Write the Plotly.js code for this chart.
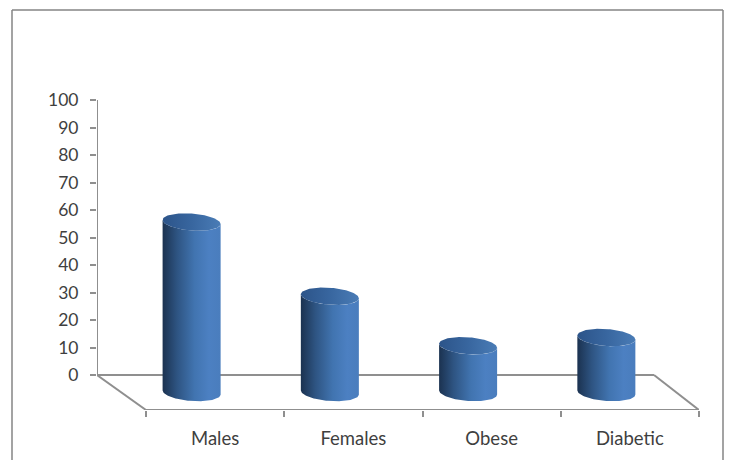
<!DOCTYPE html>
<html>
<head>
<meta charset="utf-8">
<script src="https://cdn.plot.ly/plotly-3.0.1.min.js"></script>
<style>html,body{margin:0;padding:0;background:#fff}#chart{width:731px;height:460px}</style>
</head>
<body>
<div id="chart"></div>
<script>
// Chart content
const categories = ["Males", "Females", "Obese", "Diabetic"];
const values = [62, 35, 17, 20];
const yTicks = [0, 10, 20, 30, 40, 50, 60, 70, 80, 90, 100];

// Pixel scale of the two axes and the depth of the 3D floor, in axis units
const W = 731, H = 460;
const margin = {l: 97, r: 32, t: 100, b: 50};
const unitX = (W - margin.l - margin.r) / 4.355;
const unitY = (H - margin.t - margin.b) / 112.73;
const depthX = 49 / unitX;
const depthY = 35 / unitY;
const backRightX = 45 / unitX;
const radiusX = 29 / unitX;
const radiusY = 8.5 / unitY;
const tilt = 2 / unitY;
const axisGrey = "#8f8f8f";

// One point on the rim of a cylinder: the ellipse leans slightly, like the floor
function rim(cx, cy, t) {
  return [cx + radiusX * Math.cos(t), cy + radiusY * Math.sin(t) - tilt * Math.cos(t)];
}

function cylinderBody(cx, value) {
  const base = -depthY / 2, xs = [], ys = [];
  for (let i = 0; i <= 48; i++) {
    const p = rim(cx, base, Math.PI + Math.PI * i / 48);
    xs.push(p[0]); ys.push(p[1]);
  }
  for (let i = 0; i <= 48; i++) {
    const p = rim(cx, value + base, Math.PI * 2 - Math.PI * i / 48);
    xs.push(p[0]); ys.push(p[1]);
  }
  xs.push(xs[0]); ys.push(ys[0]);
  return {
    x: xs, y: ys, type: "scatter", mode: "lines", fill: "toself", hoverinfo: "skip",
    line: {width: 0, color: "#4a7dbd"},
    fillgradient: {type: "horizontal", colorscale: [
      [0, "#1b3250"], [0.25, "#2e5482"], [0.55, "#4174b0"], [0.8, "#4c80c2"], [1, "#4a7dbd"]
    ]}
  };
}

function cylinderTop(cx, value) {
  const base = -depthY / 2, xs = [], ys = [];
  for (let i = 0; i <= 96; i++) {
    const p = rim(cx, value + base, 2 * Math.PI * i / 96);
    xs.push(p[0]); ys.push(p[1]);
  }
  return {
    x: xs, y: ys, type: "scatter", mode: "lines", fill: "toself", hoverinfo: "skip",
    line: {width: 0, color: "#37659f"},
    fillgradient: {type: "horizontal", colorscale: [
      [0, "#2c5489"], [0.5, "#38669f"], [1, "#4a7cb6"]
    ]}
  };
}

const traces = [];
categories.forEach((name, i) => {
  const cx = i + 0.5 - depthX * 0.48;
  traces.push(cylinderBody(cx, values[i]));
  traces.push(cylinderTop(cx, values[i]));
});
// Empty trace that brings the tick-only category axis into the figure
traces.push({x: [0], y: [0], xaxis: "x2", type: "scatter", mode: "markers",
             marker: {opacity: 0}, hoverinfo: "skip"});

const floorLine = (x0, y0, x1, y1) => ({
  type: "line", xref: "x", yref: "y", x0, y0, x1, y1, layer: "below",
  line: {color: axisGrey, width: 2}
});
const frameLine = (x0, y0, x1, y1) => ({
  type: "line", xref: "paper", yref: "paper",
  x0: (x0 - margin.l) / (W - margin.l - margin.r),
  x1: (x1 - margin.l) / (W - margin.l - margin.r),
  y0: (H - margin.b - y0) / (H - margin.t - margin.b),
  y1: (H - margin.b - y1) / (H - margin.t - margin.b),
  line: {color: "#858585", width: 1.5}
});

const nCat = categories.length;
const xRange = [-depthX, nCat];
const yRange = [-depthY, 100];

const layout = {
  width: W, height: H, margin, showlegend: false,
  paper_bgcolor: "#fff", plot_bgcolor: "#fff",
  font: {family: "Lato, 'Open Sans', sans-serif", size: 18, color: "#3f3f3f"},
  xaxis: {
    range: xRange, showgrid: false, zeroline: false, showline: false, fixedrange: true,
    tickmode: "array", tickvals: categories.map((_, i) => i + 0.5), ticktext: categories,
    ticks: "outside", ticklen: 12, tickcolor: "rgba(0,0,0,0)", tickfont: {size: 18.5}
  },
  xaxis2: {
    overlaying: "x", side: "bottom", range: xRange, showgrid: false, zeroline: false,
    showline: false, fixedrange: true, showticklabels: false,
    tickmode: "array", tickvals: [0, 1, 2, 3, 4], ticks: "outside", ticklen: 6,
    tickwidth: 2, tickcolor: axisGrey
  },
  yaxis: {
    range: yRange, showgrid: false, zeroline: false, showline: false, fixedrange: true,
    tickmode: "array", tickvals: yTicks, ticks: "outside", ticklen: 6, tickwidth: 2,
    tickcolor: axisGrey, ticklabelstandoff: 8, tickfont: {size: 17.5}
  },
  shapes: [
    floorLine(-depthX, 0, -depthX, 100),
    floorLine(-depthX, 0, nCat - backRightX, 0),
    floorLine(nCat - backRightX, 0, nCat, -depthY),
    floorLine(-depthX, 0, 0, -depthY),
    floorLine(0, -depthY, nCat, -depthY),
    frameLine(12, 10, 12, 460),
    frameLine(12, 10, 723, 10),
    frameLine(723, 10, 723, 460)
  ]
};

Plotly.newPlot("chart", traces, layout, {displayModeBar: false, staticPlot: true});
</script>
</body>
</html>
